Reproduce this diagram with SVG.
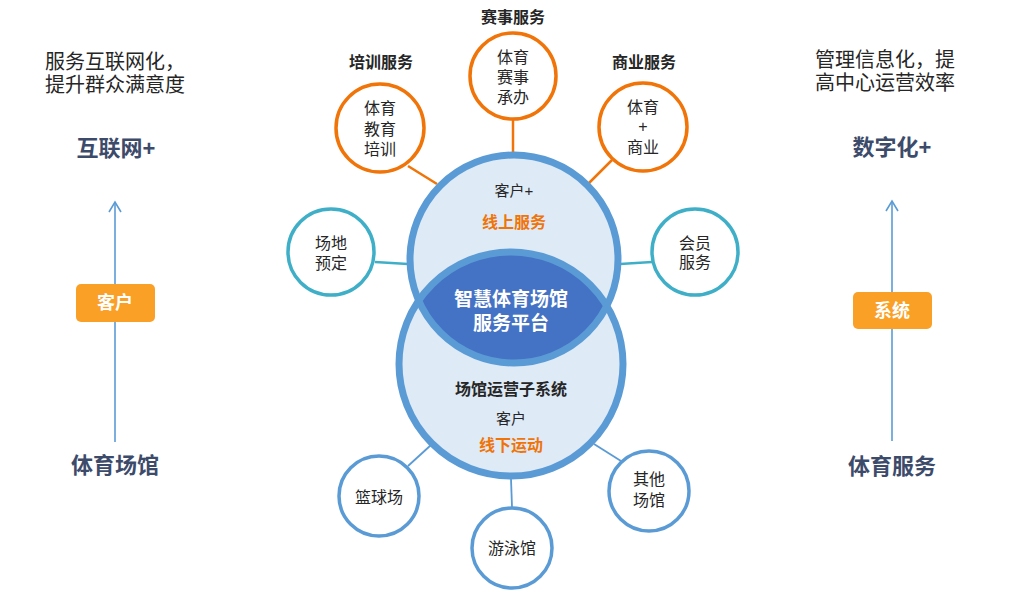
<svg xmlns="http://www.w3.org/2000/svg" width="1028" height="596" viewBox="0 0 1028 596">
<defs>
<style>
text{font-family:"Liberation Sans","Noto Sans CJK SC",sans-serif;text-anchor:middle;dominant-baseline:central}
.o{fill:#fff;stroke:#F07408;stroke-width:3.5}
.t{fill:#fff;stroke:#3FAFC8;stroke-width:3.5}
.b{fill:#fff;stroke:#5B9BD5;stroke-width:3.5}
.ol{stroke:#F07408;stroke-width:2.5}
.tl{stroke:#3FAFC8;stroke-width:2.5}
.bl{stroke:#5B9BD5;stroke-width:1.8}
.in{font-size:16px;fill:#262626}
.lab{font-size:16px;font-weight:bold;fill:#262626}
.side{font-size:20px;fill:#262626;text-anchor:start}
.big{font-size:22px;font-weight:bold;fill:#3D4B6B}
.badge{fill:#FBA026}
.bt{font-size:18px;font-weight:bold;fill:#fff}
.arr{stroke:#5B9BD5;stroke-width:1.6;fill:none}
.org{font-size:16px;font-weight:bold;fill:#F07408}
</style>
<clipPath id="cu"><circle cx="514" cy="259" r="104"/></clipPath>
</defs>
<g id="connectors">
<line class="ol" x1="513" y1="120" x2="513" y2="153"/>
<line class="ol" x1="408" y1="166" x2="437" y2="184"/>
<line class="ol" x1="612" y1="160" x2="589" y2="183"/>
<line class="tl" x1="375" y1="262" x2="408" y2="264"/>
<line class="tl" x1="620" y1="264" x2="652" y2="262"/>
<line class="bl" x1="408" y1="466" x2="431" y2="445"/>
<line class="bl" x1="511" y1="479" x2="512" y2="507"/>
<line class="bl" x1="594" y1="444" x2="621" y2="461"/>
<line class="arr" x1="115" y1="442" x2="115" y2="202"/>
<polyline class="arr" points="109,212 115,202 121,212"/>
<line class="arr" x1="892" y1="441" x2="892" y2="201"/>
<polyline class="arr" points="886,211 892,201 898,211"/>
</g>
<g id="core">
<circle cx="514" cy="259" r="104" fill="#DEEAF6"/>
<circle cx="511" cy="364" r="112" fill="#DEEAF6"/>
<circle cx="511" cy="364" r="112" fill="#4472C4" clip-path="url(#cu)"/>
<circle cx="514" cy="259" r="104" fill="none" stroke="#5B9BD5" stroke-width="7"/>
<circle cx="511" cy="364" r="112" fill="none" stroke="#5B9BD5" stroke-width="7"/>
<text x="514" y="190" style="font-size:15px;fill:#262626">客户+</text>
<text class="org" x="514" y="222">线上服务</text>
<text x="511" y="299" style="font-size:19px;font-weight:bold;fill:#fff">智慧体育场馆</text>
<text x="511" y="323" style="font-size:19px;font-weight:bold;fill:#fff">服务平台</text>
<text x="511" y="389" style="font-size:16px;font-weight:bold;fill:#262626">场馆运营子系统</text>
<text x="511" y="418" style="font-size:15px;fill:#262626">客户</text>
<text class="org" x="511" y="445">线下运动</text>
</g>
<g id="n-saishi">
<text class="lab" x="513" y="17">赛事服务</text>
<circle class="o" cx="513" cy="76" r="43"/>
<text class="in" x="513" y="57">体育</text>
<text class="in" x="513" y="77">赛事</text>
<text class="in" x="513" y="97">承办</text>
</g>
<g id="n-peixun">
<text class="lab" x="381" y="62">培训服务</text>
<circle class="o" cx="380" cy="128" r="44"/>
<text class="in" x="380" y="108">体育</text>
<text class="in" x="380" y="129">教育</text>
<text class="in" x="380" y="149">培训</text>
</g>
<g id="n-shangye">
<text class="lab" x="644" y="62">商业服务</text>
<circle class="o" cx="643" cy="127" r="44"/>
<text class="in" x="643" y="107">体育</text>
<text class="in" x="643" y="126">+</text>
<text class="in" x="643" y="147">商业</text>
</g>
<g id="n-changdi">
<circle class="t" cx="331" cy="252" r="43"/>
<text class="in" x="331" y="243">场地</text>
<text class="in" x="331" y="263">预定</text>
</g>
<g id="n-huiyuan">
<circle class="t" cx="695" cy="252" r="43"/>
<text class="in" x="695" y="243">会员</text>
<text class="in" x="695" y="262">服务</text>
</g>
<g id="n-lanqiu">
<circle class="b" cx="379" cy="496" r="40"/>
<text class="in" x="379" y="497">篮球场</text>
</g>
<g id="n-youyong">
<circle class="b" cx="512" cy="548" r="40"/>
<text class="in" x="512" y="548">游泳馆</text>
</g>
<g id="n-qita">
<circle class="b" cx="649" cy="491" r="40"/>
<text class="in" x="649" y="479">其他</text>
<text class="in" x="649" y="500">场馆</text>
</g>
<g id="left">
<text class="side" x="45" y="62">服务互联网化，</text>
<text class="side" x="45" y="85">提升群众满意度</text>
<text class="big" x="116" y="148">互联网+</text>
<rect class="badge" x="76" y="284" width="79" height="38" rx="5"/>
<text class="bt" x="115" y="303">客户</text>
<text class="big" x="115" y="465">体育场馆</text>
</g>
<g id="right">
<text class="side" x="815" y="60">管理信息化，提</text>
<text class="side" x="815" y="83">高中心运营效率</text>
<text class="big" x="892" y="147">数字化+</text>
<rect class="badge" x="853" y="292" width="79" height="37" rx="5"/>
<text class="bt" x="892" y="311">系统</text>
<text class="big" x="892" y="466">体育服务</text>
</g>
</svg>
